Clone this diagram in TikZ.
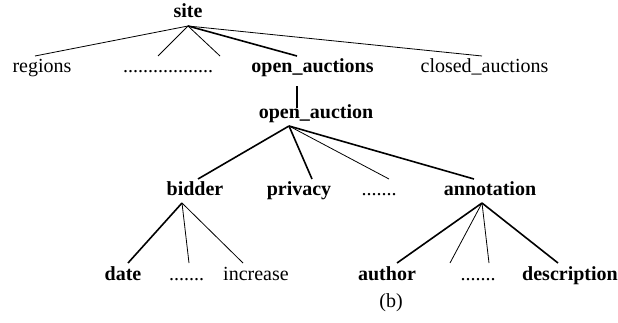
\documentclass[tikz,border=0pt]{standalone}
\usepackage{fontspec}
\setmainfont{Liberation Serif}
\begin{document}
\begin{tikzpicture}[x=1pt,y=1pt,
  lbl/.style={anchor=base,inner sep=0pt,font=\fontsize{20}{24}\selectfont},
  blbl/.style={lbl,font=\fontsize{20}{24}\selectfont\bfseries},
  thin/.style={line width=0.8pt},
  thick/.style={line width=1.6pt}]
\useasboundingbox (0,0) rectangle (618,322);
% nodes (y = 322 - baseline)
\node[blbl] (site) at (188,304) {site};
\node[lbl] (regions) at (42,250) {regions};
\node[lbl] (dotsA) at (168,250) {..................};
\node[blbl] (oas) at (312.5,250) {open\_auctions};
\node[lbl] (closed) at (484.5,250) {closed\_auctions};
\node[blbl] (oa) at (316,204) {open\_auction};
\node[blbl] (bidder) at (195,127) {bidder};
\node[blbl] (privacy) at (299,127) {privacy};
\node[lbl] (dotsB) at (379,127) {.......};
\node[blbl] (annot) at (490,127) {annotation};
\node[blbl] (date) at (123,42) {date};
\node[lbl] (dotsC) at (186.5,42) {.......};
\node[lbl] (increase) at (256,42) {increase};
\node[blbl] (author) at (387,42) {author};
\node[lbl] (dotsD) at (478,42) {.......};
\node[blbl] (descr) at (570,42) {description};
\node[lbl] (cap) at (391,15) {(b)};
% apex coordinates
\coordinate (siteA) at ([yshift=-8pt]site.base);
\coordinate (oaA) at ([xshift=-27pt,yshift=-8pt]oa.base);
\coordinate (bidA) at ([xshift=-13pt,yshift=-8pt]bidder.base);
\coordinate (annA) at ([xshift=-8pt,yshift=-8pt]annot.base);
% site edges
\draw[thin] (siteA) -- ([xshift=-7pt,yshift=16pt]regions.base);
\draw[thin] (siteA) -- ([xshift=-10pt,yshift=16pt]dotsA.base);
\draw[thin] (siteA) -- ([xshift=52pt,yshift=16pt]dotsA.base);
\draw[thick] (siteA) -- ([xshift=-15.5pt,yshift=16pt]oas.base);
\draw[thin] (siteA) -- ([xshift=-2.5pt,yshift=16pt]closed.base);
% open_auctions -> open_auction
\draw[thick] ([xshift=-15.5pt,yshift=-14pt]oas.base) -- ([xshift=-19pt,yshift=10pt]oa.base);
% open_auction edges
\draw[thick] (oaA) -- ([xshift=3pt,yshift=16pt]bidder.base);
\draw[thick] (oaA) -- ([xshift=13pt,yshift=16pt]privacy.base);
\draw[thin] (oaA) -- ([xshift=10pt,yshift=16pt]dotsB.base);
\draw[thick] (oaA) -- ([xshift=-16pt,yshift=16pt]annot.base);
% bidder edges
\draw[thick] (bidA) -- ([xshift=5pt,yshift=17pt]date.base);
\draw[thin] (bidA) -- ([xshift=2.5pt,yshift=17pt]dotsC.base);
\draw[thin] (bidA) -- ([xshift=-13pt,yshift=17pt]increase.base);
% annotation edges
\draw[thick] (annA) -- ([xshift=10pt,yshift=17pt]author.base);
\draw[thin] (annA) -- ([xshift=-28pt,yshift=17pt]dotsD.base);
\draw[thin] (annA) -- ([xshift=11pt,yshift=17pt]dotsD.base);
\draw[thick] (annA) -- ([xshift=-12pt,yshift=17pt]descr.base);
\end{tikzpicture}
\end{document}
